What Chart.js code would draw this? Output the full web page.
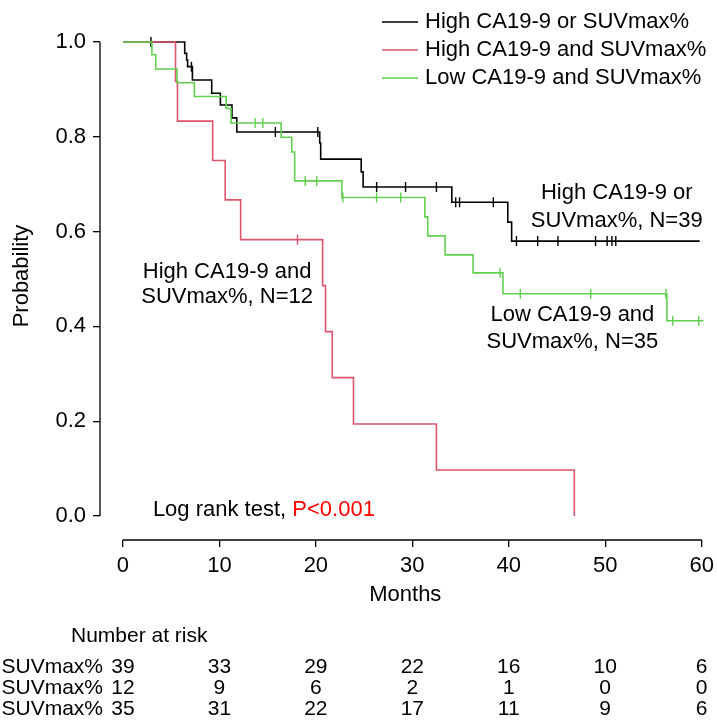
<!DOCTYPE html>
<html>
<head>
<meta charset="utf-8">
<script src="https://cdn.jsdelivr.net/npm/chart.js@4.4.1/dist/chart.umd.min.js"></script>
<style>
  body { margin: 0; background: #fff; }
  #wrap { width: 717px; height: 722px; }
</style>
</head>
<body>
<div id="wrap"><canvas id="km"></canvas></div>
<script>
// Kaplan-Meier steps: month of each drop and survival right after it
const highOrTimes = [0, 6.4, 6.6, 6.7, 7.2, 9.2, 10.1, 11.3, 11.8, 20.4, 20.5, 24.7, 24.9, 34.1, 39.9, 40.3, 59.8]
const highOrSurv  = [1, 0.976, 0.962, 0.948, 0.92, 0.892, 0.867, 0.84, 0.81, 0.787, 0.753, 0.726, 0.694, 0.662, 0.62, 0.58, 0.58]
const highOrCens  = [2.9, 7.1, 15.8, 20.2, 26.3, 29.3, 32.5, 34.5, 34.9, 38.4, 40.8, 43.0, 45.1, 49.0, 50.2, 50.7, 51.1]

const highAndTimes = [0, 5.45, 5.65, 9.3, 10.6, 12.2, 20.7, 21.0, 21.7, 23.9, 32.5, 46.8]
const highAndSurv  = [1, 0.917, 0.833, 0.75, 0.667, 0.583, 0.486, 0.389, 0.292, 0.194, 0.097, 0]
const highAndCens  = [18.1]

const lowTimes = [0, 3.0, 3.4, 5.6, 7.4, 10.7, 11.2, 16.4, 17.5, 17.8, 22.7, 31.3, 31.6, 33.4, 36.3, 39.4, 56.4, 60.2]
const lowSurv  = [1, 0.973, 0.943, 0.914, 0.885, 0.86, 0.829, 0.799, 0.768, 0.707, 0.672, 0.631, 0.591, 0.551, 0.513, 0.469, 0.412, 0.412]
const lowCens  = [13.7, 14.5, 18.9, 20.1, 22.8, 26.3, 28.8, 39.1, 41.2, 48.5, 56.3, 57.0, 59.7]

const groupNames = ['High CA19-9 or SUVmax%', 'High CA19-9 and SUVmax%', 'Low CA19-9 and SUVmax%']
const groupColors = ['#000000', '#DF536B', '#61D04F']

const xTicks = [0, 10, 20, 30, 40, 50, 60]
const yTicks = [0, 0.2, 0.4, 0.6, 0.8, 1.0]

// number at risk, one value per x tick
const riskHighOr  = [39, 33, 29, 22, 16, 10, 6]
const riskHighAnd = [12, 9, 6, 2, 1, 0, 0]
const riskLow     = [35, 31, 22, 17, 11, 9, 6]

const FONT = '"Liberation Sans", Arial, Helvetica, sans-serif'
Chart.defaults.font.family = FONT
Chart.defaults.color = '#000'

function toPoints(times, surv) {
    return times.map((t, i) => ({x: t, y: surv[i]}))
}

// survival value of a step curve at time t (for the censor marks)
function survAt(times, surv, t) {
    let s = surv[0]
    times.forEach(function (v, i) {
        if (v <= t) s = surv[i]
    })
    return s
}

function censorPoints(times, surv, cens) {
    return cens.map(t => ({x: t, y: survAt(times, surv, t)}))
}

function curve(label, times, surv, color, order) {
    return {
        label: label,
        data: toPoints(times, surv),
        showLine: true,
        stepped: true,
        borderColor: color,
        borderWidth: 1.6,
        pointRadius: 0,
        order: order
    }
}

function marks(times, surv, cens, color, order) {
    return {
        label: '',
        data: censorPoints(times, surv, cens),
        showLine: false,
        pointStyle: 'line',
        rotation: 90,
        pointRadius: 5,
        pointBorderWidth: 1.4,
        pointBorderColor: color,
        pointBackgroundColor: color,
        order: order
    }
}

const overlay = {
    id: 'overlay',
    afterDraw(chart) {
        const {ctx, scales: {x, y}} = chart
        ctx.save()
        // axis lines only over the tick range, like base R
        ctx.strokeStyle = '#000'
        ctx.lineWidth = 1.3
        ctx.beginPath()
        ctx.moveTo(x.getPixelForValue(0), x.top)
        ctx.lineTo(x.getPixelForValue(60), x.top)
        ctx.moveTo(y.right, y.getPixelForValue(0))
        ctx.lineTo(y.right, y.getPixelForValue(1))
        ctx.stroke()

        // legend
        ctx.font = '22px ' + FONT
        ctx.textBaseline = 'middle'
        ctx.textAlign = 'left'
        groupNames.forEach(function (name, i) {
            const ly = 22 + i * 28
            ctx.strokeStyle = groupColors[i]
            ctx.lineWidth = 1.3
            ctx.beginPath()
            ctx.moveTo(382, ly)
            ctx.lineTo(418, ly)
            ctx.stroke()
            ctx.fillStyle = '#000'
            ctx.fillText(name, 425, ly)
        })

        // curve labels
        ctx.textAlign = 'center'
        const label = (text, mx, py) => ctx.fillText(text, x.getPixelForValue(mx), y.getPixelForValue(py))
        label('High CA19-9 or', 51.2, 0.681)
        label('SUVmax%, N=39', 51.2, 0.622)
        label('Low CA19-9 and', 46.6, 0.424)
        label('SUVmax%, N=35', 46.6, 0.367)
        label('High CA19-9 and', 10.8, 0.515)
        label('SUVmax%, N=12', 10.8, 0.462)

        ctx.textAlign = 'left'
        const lx = x.getPixelForValue(3.1)
        const lyy = y.getPixelForValue(0.013)
        const first = 'Log rank test, '
        ctx.fillText(first, lx, lyy)
        ctx.fillStyle = '#FF0000'
        ctx.fillText('P<0.001', lx + ctx.measureText(first).width, lyy)

        // number at risk table
        ctx.fillStyle = '#000'
        ctx.font = '21px ' + FONT
        ctx.fillText('Number at risk', 71, 636)
        const rows = [riskHighOr, riskHighAnd, riskLow]
        rows.forEach(function (row, r) {
            const ry = 667 + r * 21
            ctx.textAlign = 'right'
            ctx.fillText(groupNames[r], 103, ry)
            ctx.textAlign = 'center'
            row.forEach(function (n, j) {
                ctx.fillText(String(n), x.getPixelForValue(xTicks[j]), ry)
            })
        })
        ctx.restore()
    }
}

new Chart(document.getElementById('km'), {
    type: 'scatter',
    data: {
        datasets: [
            curve(groupNames[0], highOrTimes, highOrSurv, groupColors[0], 6),
            marks(highOrTimes, highOrSurv, highOrCens, groupColors[0], 5),
            curve(groupNames[1], highAndTimes, highAndSurv, groupColors[1], 4),
            marks(highAndTimes, highAndSurv, highAndCens, groupColors[1], 3),
            curve(groupNames[2], lowTimes, lowSurv, groupColors[2], 2),
            marks(lowTimes, lowSurv, lowCens, groupColors[2], 1)
        ]
    },
    options: {
        responsive: true,
        maintainAspectRatio: false,
        animation: false,
        layout: {padding: {top: 12, right: 6, left: 0, bottom: 0}},
        plugins: {
            legend: {display: false},
            tooltip: {enabled: false}
        },
        scales: {
            x: {
                type: 'linear',
                min: -2.383,
                max: 60.93,
                // fixed band under the plot; no extra room for edge labels
                afterFit: s => { s.height = 182; s.paddingLeft = 0; s.paddingRight = 0 },
                afterBuildTicks: s => { s.ticks = xTicks.map(v => ({value: v})) },
                border: {display: false},
                grid: {drawOnChartArea: false, drawTicks: true, tickLength: 7, color: '#000', lineWidth: 1.3},
                ticks: {padding: 6, font: {size: 22}, color: '#000', maxRotation: 0},
                title: {display: true, text: 'Months', font: {size: 22}, color: '#000', padding: {top: 0, bottom: 114}}
            },
            y: {
                type: 'linear',
                min: -0.0506,
                max: 1.0633,
                afterFit: s => { s.width = 100; s.paddingTop = 0; s.paddingBottom = 0 },
                afterBuildTicks: s => { s.ticks = yTicks.map(v => ({value: v})) },
                border: {display: false},
                grid: {drawOnChartArea: false, drawTicks: true, tickLength: 7, color: '#000', lineWidth: 1.3},
                ticks: {padding: 7, font: {size: 22}, color: '#000', callback: v => v.toFixed(1)},
                title: {display: true, text: 'Probability', font: {size: 22}, color: '#000', padding: {top: 9, bottom: 0}}
            }
        }
    },
    plugins: [overlay]
})
</script>
</body>
</html>
